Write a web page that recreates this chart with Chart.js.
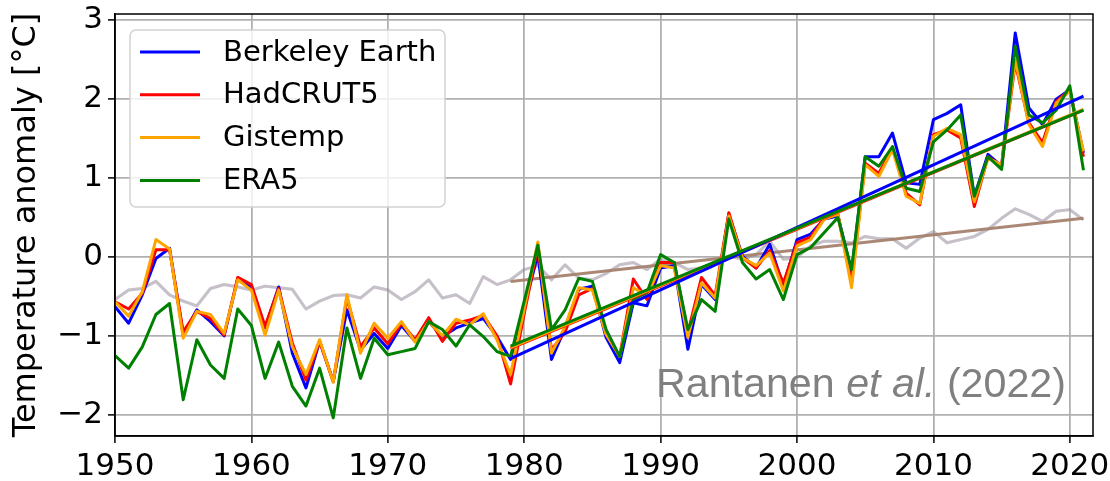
<!DOCTYPE html>
<html>
<head>
<meta charset="utf-8">
<title>Arctic temperature anomaly</title>
<script src="https://cdn.jsdelivr.net/npm/chart.js@4.4.1/dist/chart.umd.min.js"></script>
<style>
  html, body { margin: 0; padding: 0; background: #fff; }
  .chartBox { width: 1110px; height: 481px; }
</style>
</head>
<body>
<div class="chartBox"><canvas id="tempChart"></canvas></div>
<script>
// years 1950-2021
const years = [1950, 1951, 1952, 1953, 1954, 1955, 1956, 1957, 1958, 1959,
  1960, 1961, 1962, 1963, 1964, 1965, 1966, 1967, 1968, 1969,
  1970, 1971, 1972, 1973, 1974, 1975, 1976, 1977, 1978, 1979,
  1980, 1981, 1982, 1983, 1984, 1985, 1986, 1987, 1988, 1989,
  1990, 1991, 1992, 1993, 1994, 1995, 1996, 1997, 1998, 1999,
  2000, 2001, 2002, 2003, 2004, 2005, 2006, 2007, 2008, 2009,
  2010, 2011, 2012, 2013, 2014, 2015, 2016, 2017, 2018, 2019,
  2020, 2021];

// Arctic anomalies
const berkeley = [-0.63, -0.84, -0.48, -0.02, 0.11, -0.99, -0.67, -0.82, -1.00, -0.27,
  -0.38, -0.90, -0.38, -1.22, -1.66, -1.07, -1.58, -0.67, -1.18, -0.97,
  -1.16, -0.87, -1.07, -0.82, -1.01, -0.90, -0.84, -0.78, -1.01, -1.30,
  -0.64, 0.03, -1.30, -0.90, -0.41, -0.37, -1.02, -1.34, -0.58, -0.62,
  -0.14, -0.11, -1.17, -0.35, -0.54, 0.54, 0.01, -0.14, 0.16, -0.37,
  0.22, 0.29, 0.48, 0.52, -0.19, 1.27, 1.27, 1.57, 0.94, 0.92,
  1.74, 1.82, 1.93, 0.77, 1.30, 1.15, 2.84, 1.89, 1.68, 2.00,
  2.12, 1.32];

const hadcrut = [-0.57, -0.66, -0.46, 0.09, 0.09, -0.95, -0.69, -0.78, -0.99, -0.26,
  -0.35, -0.88, -0.40, -1.09, -1.56, -1.07, -1.58, -0.52, -1.14, -0.90,
  -1.10, -0.84, -1.05, -0.77, -1.07, -0.84, -0.80, -0.74, -1.00, -1.61,
  -0.72, 0.13, -1.18, -0.95, -0.48, -0.40, -0.98, -1.26, -0.28, -0.54,
  -0.07, -0.07, -0.96, -0.26, -0.49, 0.56, -0.01, -0.14, 0.08, -0.33,
  0.18, 0.25, 0.50, 0.54, -0.33, 1.19, 1.06, 1.38, 0.81, 0.66,
  1.55, 1.61, 1.51, 0.64, 1.27, 1.15, 2.46, 1.70, 1.45, 1.97,
  2.12, 1.27];

const gistemp = [-0.57, -0.75, -0.44, 0.22, 0.10, -1.03, -0.69, -0.73, -0.97, -0.29,
  -0.42, -0.99, -0.42, -1.14, -1.49, -1.05, -1.59, -0.48, -1.22, -0.84,
  -1.03, -0.82, -1.08, -0.82, -1.00, -0.79, -0.86, -0.72, -1.05, -1.49,
  -0.66, 0.19, -1.22, -0.88, -0.39, -0.42, -0.98, -1.26, -0.39, -0.49,
  -0.11, -0.14, -1.02, -0.33, -0.52, 0.52, -0.01, -0.11, 0.05, -0.43,
  0.14, 0.22, 0.48, 0.54, -0.39, 1.17, 1.02, 1.36, 0.77, 0.68,
  1.53, 1.63, 1.55, 0.70, 1.25, 1.17, 2.50, 1.68, 1.40, 1.95,
  2.10, 1.34];

const era5 = [-1.25, -1.41, -1.14, -0.73, -0.59, -1.81, -1.05, -1.37, -1.54, -0.66,
  -0.87, -1.54, -1.08, -1.64, -1.89, -1.41, -2.04, -0.90, -1.54, -1.03,
  -1.24, -1.20, -1.16, -0.82, -0.92, -1.13, -0.86, -1.01, -1.20, -1.26,
  -0.56, 0.15, -0.92, -0.67, -0.27, -0.31, -0.92, -1.26, -0.54, -0.45,
  0.03, -0.07, -0.92, -0.54, -0.69, 0.48, -0.07, -0.28, -0.16, -0.54,
  0.03, 0.12, 0.31, 0.50, -0.16, 1.27, 1.15, 1.40, 0.87, 0.83,
  1.46, 1.61, 1.80, 0.77, 1.27, 1.11, 2.67, 1.80, 1.70, 1.86,
  2.17, 1.10];

// global mean (faint lines)
const globalMean = [-0.54, -0.42, -0.40, -0.31, -0.48, -0.56, -0.62, -0.40, -0.35, -0.38,
  -0.42, -0.37, -0.39, -0.41, -0.66, -0.56, -0.49, -0.48, -0.52, -0.38,
  -0.42, -0.54, -0.44, -0.29, -0.52, -0.48, -0.59, -0.25, -0.35, -0.29,
  -0.16, -0.11, -0.29, -0.10, -0.27, -0.29, -0.21, -0.10, -0.07, -0.16,
  -0.03, -0.07, -0.16, -0.14, -0.07, 0.01, -0.03, 0.03, 0.20, -0.03,
  -0.01, 0.14, 0.20, 0.20, 0.18, 0.26, 0.23, 0.23, 0.11, 0.24,
  0.32, 0.18, 0.22, 0.26, 0.35, 0.49, 0.61, 0.54, 0.45, 0.58,
  0.60, 0.47];

// linear trends 1979-2021 (end points)
const trendYears = [1979, 2021];
const trendBerkeley = [-1.29, 2.04];
const trendHadcrut = [-1.16, 1.86];
const trendGistemp = [-1.15, 1.87];
const trendEra5 = [-1.13, 1.86];
const trendGlobal = [-0.31, 0.49];

const xTicks = [1950, 1960, 1970, 1980, 1990, 2000, 2010, 2020];
const yTicks = [-2, -1, 0, 1, 2, 3];

function pts(vals, xs) {
    xs = xs || years;
    return xs.map((x, i) => ({ x: x, y: vals[i] }));
}

function line(label, vals, color, order, extra) {
    return Object.assign({
        label: label,
        data: pts(vals),
        borderColor: color,
        backgroundColor: color,
        borderWidth: 3,
        pointRadius: 0,
        tension: 0,
        fill: false,
        borderJoinStyle: 'round',
        order: order
    }, extra || {});
}

const datasets = [
    line('Berkeley Earth', berkeley, '#0000ff', 8, { inLegend: true }),
    line('HadCRUT5', hadcrut, '#ff0000', 7, { inLegend: true }),
    line('Gistemp', gistemp, '#ffa500', 6, { inLegend: true }),
    line('ERA5', era5, '#008000', 5, { inLegend: true }),
    line('Global (Berkeley)', globalMean, 'rgba(120,100,255,0.25)', 22),
    line('Global (HadCRUT5)', globalMean, 'rgba(255,110,140,0.22)', 21),
    line('Global (ERA5)', globalMean, 'rgba(90,190,90,0.22)', 20),
    Object.assign(line('Global trend', trendGlobal, 'rgba(165,130,110,0.95)', 15), { data: pts(trendGlobal, trendYears) }),
    Object.assign(line('Berkeley trend', trendBerkeley, '#0000ff', 2), { data: pts(trendBerkeley, trendYears) }),
    Object.assign(line('HadCRUT5 trend', trendHadcrut, '#ff0000', 4), { data: pts(trendHadcrut, trendYears) }),
    Object.assign(line('Gistemp trend', trendGistemp, '#ffa500', 3), { data: pts(trendGistemp, trendYears) }),
    Object.assign(line('ERA5 trend', trendEra5, '#008000', 1), { data: pts(trendEra5, trendYears) })
];

// black box round the plot area
const frame = {
    id: 'frame',
    afterDatasetsDraw(chart) {
        const a = chart.chartArea, ctx = chart.ctx;
        ctx.save();
        ctx.strokeStyle = '#000';
        ctx.lineWidth = 1.5;
        ctx.strokeRect(a.left, a.top, a.right - a.left, a.bottom - a.top);
        ctx.restore();
    }
};

// matplotlib style legend box, upper left
const legendBox = {
    id: 'legendBox',
    afterDatasetsDraw(chart) {
        const a = chart.chartArea, ctx = chart.ctx;
        const items = chart.data.datasets.filter(d => d.inLegend);
        const x = a.left + 15, y = a.top + 16, w = 315, h = 177;
        ctx.save();
        ctx.beginPath();
        ctx.roundRect(x, y, w, h, 6);
        ctx.fillStyle = 'rgba(255,255,255,0.8)';
        ctx.fill();
        ctx.strokeStyle = '#d2d2d2';
        ctx.lineWidth = 1.5;
        ctx.stroke();
        ctx.font = '29px "DejaVu Sans"';
        ctx.textBaseline = 'middle';
        items.forEach((d, i) => {
            const cy = y + 22 + i * 42.8;
            ctx.strokeStyle = d.borderColor;
            ctx.lineWidth = 3;
            ctx.beginPath();
            ctx.moveTo(x + 10, cy);
            ctx.lineTo(x + 70, cy);
            ctx.stroke();
            ctx.fillStyle = '#000';
            ctx.fillText(d.label, x + 93, cy + 1);
        });
        ctx.restore();
    }
};

// source note, bottom right
const sourceNote = {
    id: 'sourceNote',
    afterDatasetsDraw(chart) {
        const a = chart.chartArea, ctx = chart.ctx;
        const parts = [
            ['Rantanen ', 'normal'],
            ['et al.', 'italic'],
            [' (2022)', 'normal']
        ];
        const size = 40;
        ctx.save();
        ctx.fillStyle = '#808080';
        ctx.textBaseline = 'alphabetic';
        let total = 0;
        parts.forEach(p => {
            ctx.font = p[1] + ' ' + size + 'px "Liberation Sans"';
            total += ctx.measureText(p[0]).width;
        });
        const targetW = 410;
        const right = a.right - 27, base = a.bottom - 39;
        ctx.translate(right - targetW, base);
        ctx.scale(targetW / total, 1);
        let cx = 0;
        parts.forEach(p => {
            ctx.font = p[1] + ' ' + size + 'px "Liberation Sans"';
            ctx.fillText(p[0], cx, 0);
            cx += ctx.measureText(p[0]).width;
        });
        ctx.restore();
    }
};

Chart.defaults.font.family = '"DejaVu Sans"';
Chart.defaults.color = '#000';

new Chart(document.getElementById('tempChart'), {
    type: 'line',
    data: { datasets: datasets },
    options: {
        responsive: true,
        maintainAspectRatio: false,
        animation: false,
        layout: { padding: { top: 14, right: 17, left: 0, bottom: 0 } },
        plugins: {
            legend: { display: false },
            tooltip: { enabled: false }
        },
        scales: {
            x: {
                type: 'linear',
                min: 1950,
                max: 2021.7,
                afterBuildTicks: (s) => { s.ticks = xTicks.map(v => ({ value: v })); },
                afterFit: (s) => { s.height = 45; s.paddingLeft = 0; s.paddingRight = 0; },
                ticks: {
                    autoSkip: false,
                    maxRotation: 0,
                    padding: 5,
                    font: { size: 31 },
                    color: '#000',
                    callback: (v) => String(v)
                },
                grid: { color: '#b0b0b0', lineWidth: 1.8, drawTicks: true, tickLength: 7, tickColor: '#000', tickWidth: 1.5 },
                border: { display: true, color: '#000', width: 1.5 }
            },
            y: {
                type: 'linear',
                min: -2.27,
                max: 3.08,
                afterBuildTicks: (s) => { s.ticks = yTicks.map(v => ({ value: v })); },
                afterFit: (s) => { s.width = 115; s.paddingTop = 0; s.paddingBottom = 0; },
                ticks: {
                    autoSkip: false,
                    padding: 5,
                    font: { size: 31 },
                    color: '#000',
                    callback: (v) => (v < 0 ? '\u2212' + Math.abs(v) : String(v))
                },
                title: {
                    display: true,
                    text: 'Temperature anomaly [°C]',
                    font: { size: 32 },
                    color: '#000',
                    padding: { top: 7, bottom: 0 }
                },
                grid: { color: '#b0b0b0', lineWidth: 1.8, drawTicks: true, tickLength: 7, tickColor: '#000', tickWidth: 1.5 },
                border: { display: true, color: '#000', width: 1.5 }
            }
        }
    },
    plugins: [frame, legendBox, sourceNote]
});
</script>
</body>
</html>
